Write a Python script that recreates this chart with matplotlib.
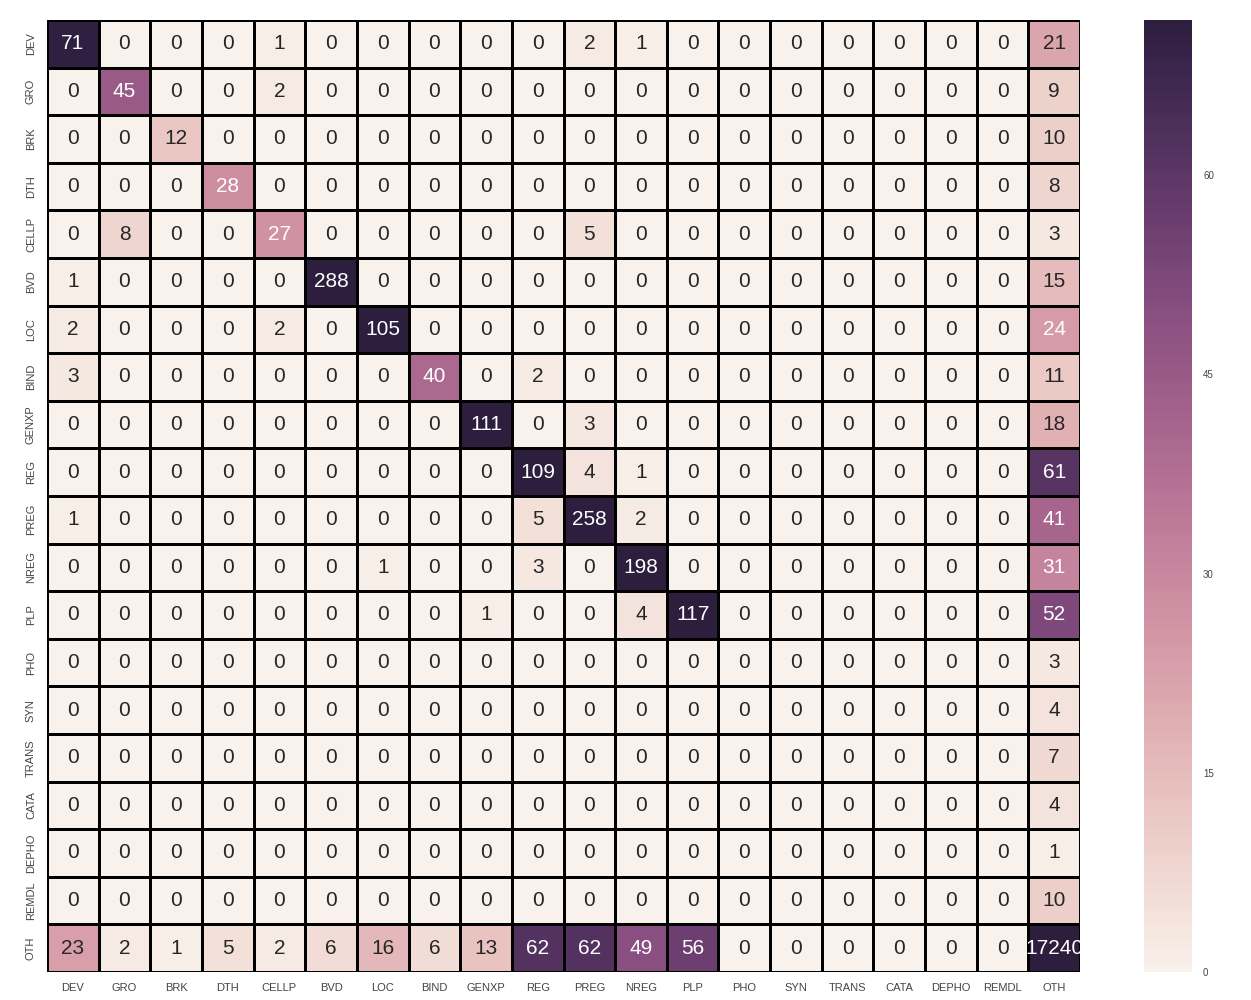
import numpy as np
import matplotlib
matplotlib.use("Agg")
import matplotlib.pyplot as plt
import seaborn as sns

labels = ["DEV", "GRO", "BRK", "DTH", "CELLP", "BVD", "LOC", "BIND", "GENXP", "REG",
          "PREG", "NREG", "PLP", "PHO", "SYN", "TRANS", "CATA", "DEPHO", "REMDL", "OTH"]

row_DEV   = [71, 0, 0, 0, 1, 0, 0, 0, 0, 0, 2, 1, 0, 0, 0, 0, 0, 0, 0, 21]
row_GRO   = [0, 45, 0, 0, 2, 0, 0, 0, 0, 0, 0, 0, 0, 0, 0, 0, 0, 0, 0, 9]
row_BRK   = [0, 0, 12, 0, 0, 0, 0, 0, 0, 0, 0, 0, 0, 0, 0, 0, 0, 0, 0, 10]
row_DTH   = [0, 0, 0, 28, 0, 0, 0, 0, 0, 0, 0, 0, 0, 0, 0, 0, 0, 0, 0, 8]
row_CELLP = [0, 8, 0, 0, 27, 0, 0, 0, 0, 0, 5, 0, 0, 0, 0, 0, 0, 0, 0, 3]
row_BVD   = [1, 0, 0, 0, 0, 288, 0, 0, 0, 0, 0, 0, 0, 0, 0, 0, 0, 0, 0, 15]
row_LOC   = [2, 0, 0, 0, 2, 0, 105, 0, 0, 0, 0, 0, 0, 0, 0, 0, 0, 0, 0, 24]
row_BIND  = [3, 0, 0, 0, 0, 0, 0, 40, 0, 2, 0, 0, 0, 0, 0, 0, 0, 0, 0, 11]
row_GENXP = [0, 0, 0, 0, 0, 0, 0, 0, 111, 0, 3, 0, 0, 0, 0, 0, 0, 0, 0, 18]
row_REG   = [0, 0, 0, 0, 0, 0, 0, 0, 0, 109, 4, 1, 0, 0, 0, 0, 0, 0, 0, 61]
row_PREG  = [1, 0, 0, 0, 0, 0, 0, 0, 0, 5, 258, 2, 0, 0, 0, 0, 0, 0, 0, 41]
row_NREG  = [0, 0, 0, 0, 0, 0, 1, 0, 0, 3, 0, 198, 0, 0, 0, 0, 0, 0, 0, 31]
row_PLP   = [0, 0, 0, 0, 0, 0, 0, 0, 1, 0, 0, 4, 117, 0, 0, 0, 0, 0, 0, 52]
row_PHO   = [0, 0, 0, 0, 0, 0, 0, 0, 0, 0, 0, 0, 0, 0, 0, 0, 0, 0, 0, 3]
row_SYN   = [0, 0, 0, 0, 0, 0, 0, 0, 0, 0, 0, 0, 0, 0, 0, 0, 0, 0, 0, 4]
row_TRANS = [0, 0, 0, 0, 0, 0, 0, 0, 0, 0, 0, 0, 0, 0, 0, 0, 0, 0, 0, 7]
row_CATA  = [0, 0, 0, 0, 0, 0, 0, 0, 0, 0, 0, 0, 0, 0, 0, 0, 0, 0, 0, 4]
row_DEPHO = [0, 0, 0, 0, 0, 0, 0, 0, 0, 0, 0, 0, 0, 0, 0, 0, 0, 0, 0, 1]
row_REMDL = [0, 0, 0, 0, 0, 0, 0, 0, 0, 0, 0, 0, 0, 0, 0, 0, 0, 0, 0, 10]
row_OTH   = [23, 2, 1, 5, 2, 6, 16, 6, 13, 62, 62, 49, 56, 0, 0, 0, 0, 0, 0, 17240]

cbar_ticks = [0, 15, 30, 45, 60]

matrix = np.array([row_DEV, row_GRO, row_BRK, row_DTH, row_CELLP, row_BVD, row_LOC,
                   row_BIND, row_GENXP, row_REG, row_PREG, row_NREG, row_PLP, row_PHO,
                   row_SYN, row_TRANS, row_CATA, row_DEPHO, row_REMDL, row_OTH])

sns.set_style("white")
plt.rcParams['font.family'] = ['Liberation Sans', 'DejaVu Sans']
plt.rcParams['text.color'] = '.15'

fig = plt.figure(figsize=(12.51, 10), dpi=100)
W, H = 1251, 1000
ax = fig.add_axes([47 / W, 28 / H, (1080 - 47) / W, 952 / H])
cax = fig.add_axes([1144 / W, 28 / H, 48 / W, 952 / H])

cmap = sns.cubehelix_palette(light=.95, as_cmap=True)
sns.heatmap(matrix, ax=ax, cbar_ax=cax, cmap=cmap, robust=True, annot=True, fmt="d",
            annot_kws={"fontsize": 15}, linewidths=1.0, linecolor="black",
            xticklabels=labels, yticklabels=labels,
            cbar_kws={"ticks": cbar_ticks})

ax.tick_params(axis='both', length=0, labelsize=8, colors='#444444', pad=8)
ax.set_xticklabels(labels, rotation=0)
ax.set_yticklabels(labels, rotation=90, va='center')
cax.tick_params(length=0, labelsize=7, colors='#444444', pad=8)

fig.savefig("out.png", dpi=100)
